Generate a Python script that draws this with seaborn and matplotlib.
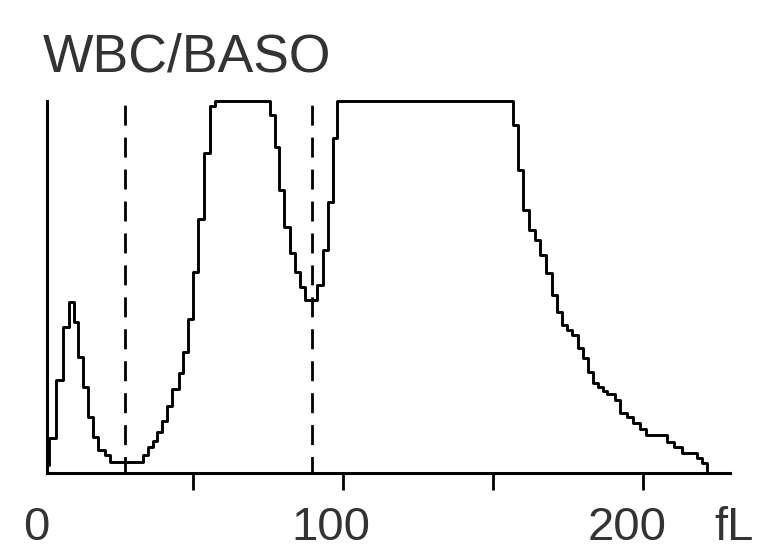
import matplotlib
matplotlib.use("Agg")
import matplotlib.pyplot as plt
import matplotlib.transforms as mtransforms
import pandas as pd
import seaborn as sns

# Channel size (fL) where each step of the histogram starts, and its relative count.
# Counts are on a 0-100 display scale; the two plateaus are clipped at the top.
size_fl = [
    1.3, 2.0, 4.3, 6.7, 8.7, 10.3, 11.7, 13.3, 15.0, 16.7, 18.3, 20.7, 22.3,
    33.3, 35.0, 36.7, 38.0, 39.7, 41.3, 43.0, 45.3, 46.7, 48.3, 50.0, 51.7,
    53.7, 55.7, 57.3,
    75.7, 77.3, 78.7, 80.3, 82.3, 84.0, 85.7, 87.3, 91.3, 93.3, 95.0, 96.7,
    98.0,
    156.7, 158.3, 160.0, 162.0, 164.0, 165.7, 167.7, 169.7, 171.3, 173.0,
    174.7, 176.3, 178.3, 180.0, 181.7, 183.3, 185.0, 186.7, 188.0, 190.7,
    192.3, 194.7, 196.7, 199.0, 201.0, 208.0, 210.3, 213.0, 218.0, 219.7,
    221.3,
]
count = [
    2.2, 9.4, 25.0, 39.2, 46.0, 40.6, 31.2, 23.1, 15.1, 9.7, 6.2, 4.8, 3.0,
    4.8, 7.0, 8.6, 11.0, 14.0, 18.0, 22.6, 26.9, 32.5, 41.4, 54.0, 68.3,
    86.0, 98.7, 100.0,
    96.2, 87.6, 76.1, 66.1, 59.1, 54.0, 50.0, 46.5, 50.5, 59.9, 72.8, 90.1,
    100.0,
    93.5, 81.5, 70.7, 65.3, 62.6, 58.6, 53.8, 47.8, 43.3, 39.8,
    38.4, 37.1, 33.6, 30.9, 27.2, 24.2, 23.1, 22.0, 21.2, 19.6,
    16.1, 15.1, 13.4, 11.8, 10.2, 8.3, 7.0, 5.4, 4.0, 2.7,
    0.0,
]

# Discriminator positions (fL)
discriminators_fl = [27.3, 89.7]

tick_values = [50, 100, 150, 200]
label_values = [0, 100, 200]
label_texts = ["0", "100", "200"]
label_shift_px = [-7, -12, -16]
title = "WBC/BASO"
unit = "fL"

sns.set_theme(style="white")
plt.rcParams["font.family"] = ["Liberation Sans", "DejaVu Sans"]

text_color = "#333333"

fig = plt.figure(figsize=(7.59, 5.5), dpi=100)
ax = fig.add_axes([47 / 759, 77 / 550, (730 - 47) / 759, 372 / 550])

hist = pd.DataFrame({"size": size_fl, "count": count})
sns.lineplot(
    data=hist, x="size", y="count", ax=ax,
    drawstyle="steps-post", color="black", linewidth=2.1, clip_on=False,
)

# Discriminator lines, dashed from the top of the scale down to the axis
for d in discriminators_fl:
    ax.plot([d, d], [100, 0], color="black", linewidth=2.0,
            linestyle=(10.0, (7.2, 4.3)), solid_capstyle="butt")

ax.set_xlim(4 / 3, 229)
ax.set_ylim(0, 100)
ax.set_xlabel("")
ax.set_ylabel("")
ax.set_yticks([])
ax.set_xticks(tick_values)
ax.set_xticklabels([])
ax.tick_params(axis="x", length=12, width=2, direction="out", color="black",
               bottom=True)

sns.despine(ax=ax, top=True, right=True)
for side in ("left", "bottom"):
    ax.spines[side].set_color("black")
    ax.spines[side].set_linewidth(2.2)

# Axis numbers, sitting slightly left of their ticks
blend = mtransforms.blended_transform_factory(ax.transData, ax.transAxes)
for v, t, dx in zip(label_values, label_texts, label_shift_px):
    tr = blend + mtransforms.ScaledTranslation(dx / 100, -67 / 100, fig.dpi_scale_trans)
    ax.text(v, 0, t, transform=tr, ha="center", va="baseline",
            fontsize=34, color=text_color, clip_on=False)

fig.text(714 / 759, 1 - 540 / 550, unit, ha="left", va="baseline",
         fontsize=34, color=text_color)

fig.text(43 / 759, 1 - 72 / 550, title, ha="left", va="baseline",
         fontsize=38.5, color=text_color)

fig.savefig("out.png", dpi=100, facecolor="white")
